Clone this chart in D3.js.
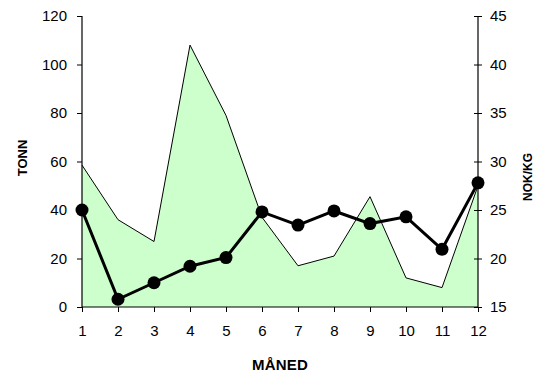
<!DOCTYPE html>
<html><head><meta charset="utf-8">
<script src="https://cdn.jsdelivr.net/npm/d3@7"></script>
<style>
body{margin:0;background:#fff;}
text{font-family:"Liberation Sans",Arial,sans-serif;}
</style></head><body>
<svg id="c" width="542" height="376"></svg>
<script>
const months = [1,2,3,4,5,6,7,8,9,10,11,12];
const tonn = [58.5,36,27,108,79,37,17,21,45.5,12,8,50];
const price = [25,15.8,17.5,19.2,20.1,24.8,23.45,24.9,23.6,24.3,20.95,27.8];
const leftTicks = [0,20,40,60,80,100,120];
const rightTicks = [15,20,25,30,35,40,45];

const svg = d3.select("#c");
const L = 82, R = 478, T = 16, B = 307;
const x = d3.scaleLinear().domain([1,12]).range([L,R]);
const yL = d3.scaleLinear().domain([0,120]).range([B,T]);
const yR = d3.scaleLinear().domain([15,45]).range([B,T]);

// area
svg.append("path").datum(months)
  .attr("d", d3.area().x(d=>x(d)).y0(B).y1((d,i)=>yL(tonn[i])))
  .attr("fill","#ccffcc").attr("stroke","none");
svg.append("path").datum(months)
  .attr("d", d3.line().x(d=>x(d)).y((d,i)=>yL(tonn[i])))
  .attr("fill","none").attr("stroke","#000").attr("stroke-width",1);

// axes
const fs = "15px";
const ax = svg.append("g").attr("transform",`translate(0,${B})`)
  .call(d3.axisBottom(x).tickValues(months).tickSize(5).tickPadding(13).tickFormat(d3.format("d")));
const al = svg.append("g").attr("transform",`translate(${L},0)`)
  .call(d3.axisLeft(yL).tickValues(leftTicks).tickSize(5).tickPadding(10));
const ar = svg.append("g").attr("transform",`translate(${R},0)`)
  .call(d3.axisRight(yR).tickValues(rightTicks).tickSize(4).tickPadding(8));
ar.selectAll(".tick line").attr("x1",-4);
[ax,al,ar].forEach(g=>{
  g.select(".domain").attr("stroke","#000").attr("stroke-width",1.2);
  g.selectAll(".tick line").attr("stroke","#000");
  g.selectAll("text").attr("font-size",fs).attr("fill","#000")
   .attr("font-family","Liberation Sans, Arial, sans-serif");
});
ax.select(".domain").attr("d",`M${L},0H${R}`);
al.select(".domain").attr("d",`M0,${B}V${T}`);
ar.select(".domain").attr("d",`M0,${B}V${T}`);

// price line
svg.append("path").datum(months)
  .attr("d", d3.line().x(d=>x(d)).y((d,i)=>yR(price[i])))
  .attr("fill","none").attr("stroke","#000").attr("stroke-width",3);
svg.append("g").selectAll("circle").data(months).join("circle")
  .attr("cx",d=>x(d)).attr("cy",(d,i)=>yR(price[i])).attr("r",6.5).attr("fill","#000");

// titles
svg.append("text").attr("transform",`translate(27,158) rotate(-90)`)
  .attr("text-anchor","middle").attr("font-size","13px").attr("font-weight","bold").text("TONN");
svg.append("text").attr("transform",`translate(532,177) rotate(-90)`)
  .attr("text-anchor","middle").attr("font-size","12px").attr("font-weight","bold").text("NOK/KG");
svg.append("text").attr("x",280).attr("y",370)
  .attr("text-anchor","middle").attr("font-size","15px").attr("font-weight","bold").attr("letter-spacing","0.2").text("MÅNED");
</script>
</body></html>
